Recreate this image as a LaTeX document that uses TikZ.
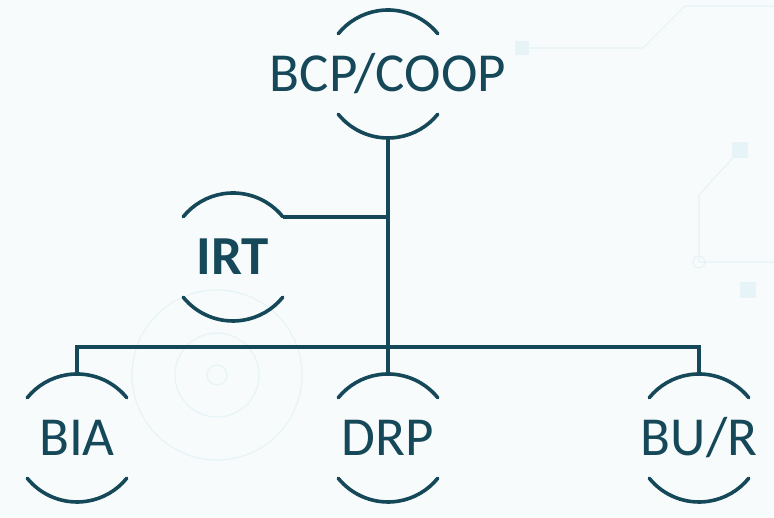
\documentclass[tikz,border=0pt]{standalone}
\usepackage{fontspec}
\setmainfont{Carlito}
\definecolor{deepteal}{RGB}{21,72,88}
\definecolor{faint}{RGB}{230,243,247}
\definecolor{paper}{RGB}{248,251,252}
\begin{document}
\begin{tikzpicture}[x=1pt,y=1pt,
    plan/.style={inner sep=0pt,outer sep=0pt,text=deepteal,
      font=\fontsize{55}{60}\selectfont,text height=36pt,text depth=0pt},
    rim/.style={draw=deepteal,line width=3.6pt,line cap=round},
    link/.style={draw=deepteal,line width=3.6pt},
    ghost/.style={draw=faint,line width=1.2pt}]
  \useasboundingbox (0,0) rectangle (774,518);
  \fill[paper] (0,0) rectangle (774,518);
  % faint background circuit
  \draw[ghost] (217,143) circle (10) (217,143) circle (42) (217,143) circle (85);
  \draw[ghost] (528,470) -- (643,470) -- (685,512) -- (774,512);
  \draw[ghost,fill=faint] (516,464) rectangle (528,476);
  \draw[ghost] (740,368) -- (699,323) -- (699,256) -- (774,256);
  \draw[ghost] (699,256) circle (6);
  \draw[ghost,fill=faint] (733,361) rectangle (747,375);
  \draw[ghost,fill=faint] (741,221) rectangle (755,235);
      \node[plan] (bcp) at (388,444) {BCP/COOP};
      \node[plan,font=\fontsize{55}{60}\selectfont\bfseries] (irt) at (233,261) {IRT};
      \node[plan] (bia) at (77,80) {BIA};
      \node[plan] (drp) at (388,80) {DRP};
      \node[plan] (bur) at (699,80) {BU/R};
  % arcs above and below each label
  \foreach \n in {bcp,irt,bia,drp,bur}{
    \draw[rim] ([shift={(39:64pt)}]\n.center) arc[start angle=39,end angle=141,radius=64pt];
    \draw[rim] ([shift={(219:64pt)}]\n.center) arc[start angle=219,end angle=321,radius=64pt];
  }
  \coordinate (bus) at (388,171);
  \coordinate (irt-ne) at ([shift={(39:64pt)}]irt.center);
    \draw[link] ([yshift=-64pt]bcp.center) -- (bus);
    \draw[link] (irt-ne) -- (irt-ne -| bcp);
    \draw[link] ([yshift=64pt]bia.center) -- (bia.center |- bus) -- (bur.center |- bus) -- ([yshift=64pt]bur.center);
    \draw[link] ([yshift=64pt]drp.center) -- (bus);
    \end{tikzpicture}
\end{document}
